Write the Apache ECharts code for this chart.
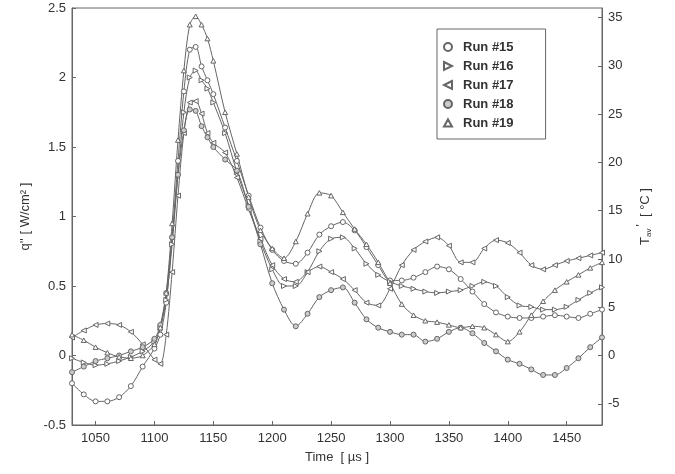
<!DOCTYPE html>
<html><head><meta charset="utf-8">
<script src="https://cdn.jsdelivr.net/npm/echarts@6/dist/echarts.min.js"></script>
<style>html,body{margin:0;padding:0;background:#fff}#c{width:675px;height:474px}</style>
</head><body><div id="c"></div>
<script>
const times = [1030,1040,1050,1060,1070,1080,1090,1100,1105,1110,1115,1120,1125,1130,1135,1140,1145,1150,
  1160,1170,1180,1190,1200,1210,1220,1230,1240,1250,1260,1270,1280,1290,1300,1310,1320,1330,1340,1350,1360,
  1370,1380,1390,1400,1410,1420,1430,1440,1450,1460,1470,1480];
const run15 = [-0.2,-0.28,-0.33,-0.33,-0.3,-0.22,-0.08,0.05,0.15,0.38,0.85,1.4,1.9,2.2,2.22,2.08,1.98,1.88,
  1.64,1.4,1.15,0.92,0.76,0.68,0.66,0.74,0.87,0.93,0.96,0.9,0.78,0.65,0.54,0.54,0.56,0.6,0.64,0.62,0.55,
  0.46,0.37,0.31,0.28,0.27,0.27,0.28,0.29,0.28,0.27,0.3,0.33];
const run16 = [-0.02,-0.05,-0.07,-0.06,-0.04,-0.01,0.03,0.1,0.2,0.4,0.8,1.3,1.75,2.0,2.05,1.98,1.92,1.82,
  1.6,1.32,1.08,0.82,0.62,0.5,0.5,0.6,0.75,0.84,0.85,0.77,0.66,0.58,0.53,0.5,0.48,0.46,0.45,0.46,0.47,
  0.5,0.53,0.5,0.42,0.36,0.35,0.33,0.33,0.35,0.4,0.45,0.49];
const run17 = [0.13,0.18,0.22,0.23,0.22,0.17,0.08,-0.03,-0.06,0.15,0.6,1.15,1.6,1.82,1.83,1.74,1.6,1.53,
  1.46,1.28,1.05,0.84,0.65,0.55,0.53,0.6,0.64,0.6,0.55,0.47,0.38,0.36,0.48,0.65,0.76,0.82,0.85,0.79,0.67,
  0.67,0.77,0.83,0.81,0.74,0.65,0.62,0.65,0.68,0.7,0.72,0.74];
const run18 = [-0.12,-0.08,-0.04,-0.02,0.0,0.03,0.06,0.12,0.22,0.45,0.85,1.3,1.62,1.77,1.76,1.65,1.57,1.5,
  1.41,1.33,1.07,0.8,0.52,0.33,0.21,0.3,0.42,0.47,0.49,0.38,0.26,0.2,0.17,0.15,0.15,0.1,0.12,0.17,0.2,
  0.16,0.09,0.03,-0.03,-0.06,-0.1,-0.14,-0.14,-0.09,-0.02,0.06,0.13];
const run19 = [0.15,0.11,0.06,0.02,-0.01,-0.02,0.0,0.08,0.2,0.45,0.95,1.55,2.05,2.38,2.44,2.38,2.28,2.12,
  1.75,1.45,1.14,0.9,0.77,0.7,0.82,1.02,1.17,1.15,1.03,0.91,0.8,0.67,0.52,0.37,0.29,0.25,0.24,0.22,0.2,
  0.21,0.2,0.15,0.1,0.17,0.29,0.39,0.47,0.53,0.58,0.63,0.67];
const seriesNames = ['Run #15','Run #16','Run #17','Run #18','Run #19'];
const xTicks = [1050,1100,1150,1200,1250,1300,1350,1400,1450];
const yTicksRight = [-5,0,5,10,15,20,25,30,35];

const FONT = 'Liberation Sans, Arial, sans-serif';
const LC = '#666';
const TRI_R = 'path://M0,0 L10,5 L0,10 Z';
const TRI_L = 'path://M10,0 L0,5 L10,10 Z';
const TRI_U = 'path://M5,0 L10,9 L0,9 Z';
const symbols = ['circle', TRI_R, TRI_L, 'circle', TRI_U];
const fills = ['#fff','#fff','#fff','#ccc','#fff'];
const chart = echarts.init(document.getElementById('c'), null, {renderer:'canvas'});
const pair = a => times.map((t,i)=>[t,a[i]]);
function mk(name, data, idx) {
  return {name, type:'line', data: pair(data), smooth: 0.3, symbol: symbols[idx], symbolSize: 5,
    showSymbol: true, symbolKeepAspect:true,
    lineStyle:{color: LC, width: 1}, itemStyle:{color: fills[idx], borderColor: LC, borderWidth: 1},
    emphasis:{disabled:true}, animation:false};
}
const plain = v => String(v);
const axisCommon = {
  axisLine:{show:true, onZero:false, lineStyle:{color:LC, width:1}},
  axisTick:{show:true, inside:true, length:4, lineStyle:{color:LC}},
  splitLine:{show:false},
  axisLabel:{color:'#333', fontFamily:FONT, fontSize:13, formatter:plain}
};
chart.setOption({
  animation:false,
  backgroundColor:'#fff',
  grid:{left:72, right:73, top:8, bottom:49, show:true, borderColor:LC, borderWidth:1},
  xAxis:{type:'value', min:1030, max:1480, ...axisCommon,
    axisTick:{...axisCommon.axisTick, customValues:xTicks},
    axisLabel:{...axisCommon.axisLabel, customValues:xTicks, margin:7},
    name:'Time  [ µs ]', nameLocation:'middle', nameGap:26,
    nameTextStyle:{color:'#333', fontFamily:FONT, fontSize:13}},
  yAxis:[
    {type:'value', min:-0.5, max:2.5, interval:0.5, position:'left', ...axisCommon,
     axisLabel:{...axisCommon.axisLabel, margin:6},
     name:"q'' [ W/cm² ]", nameLocation:'middle', nameGap:40, nameRotate:90,
     nameTextStyle:{color:'#333', fontFamily:FONT, fontSize:13}},
    {type:'value', min:-7.2, max:36, position:'right', ...axisCommon,
     axisTick:{...axisCommon.axisTick, customValues:yTicksRight},
     axisLabel:{...axisCommon.axisLabel, customValues:yTicksRight, margin:6},
     name:"{t|T}{s|av}{p|'}  [ °C ]", nameLocation:'middle', nameGap:34, nameRotate:90,
     nameTextStyle:{color:'#333', fontFamily:FONT, fontSize:13,
       rich:{t:{fontFamily:FONT, fontSize:13, color:'#333'},
             s:{fontFamily:FONT, fontSize:8, color:'#333', padding:[8,0,0,0]},
             p:{fontFamily:FONT, fontSize:12, color:'#333', padding:[0,0,6,2]}}}}
  ],
  legend:{left:437, top:29, orient:'vertical', backgroundColor:'#fff', borderColor:LC, borderWidth:1,
    padding:[11,32,9,6], itemWidth:8, itemHeight:8, itemGap:5,
    textStyle:{fontFamily:FONT, fontSize:13, fontWeight:'bold', color:'#333', lineHeight:14, padding:[0,0,0,6]},
    data:seriesNames.map((n,i)=>({name:n, icon:symbols[i]}))},
  series: [run15, run16, run17, run18, run19].map((d,i)=>mk(seriesNames[i], d, i))
});
</script></body></html>
